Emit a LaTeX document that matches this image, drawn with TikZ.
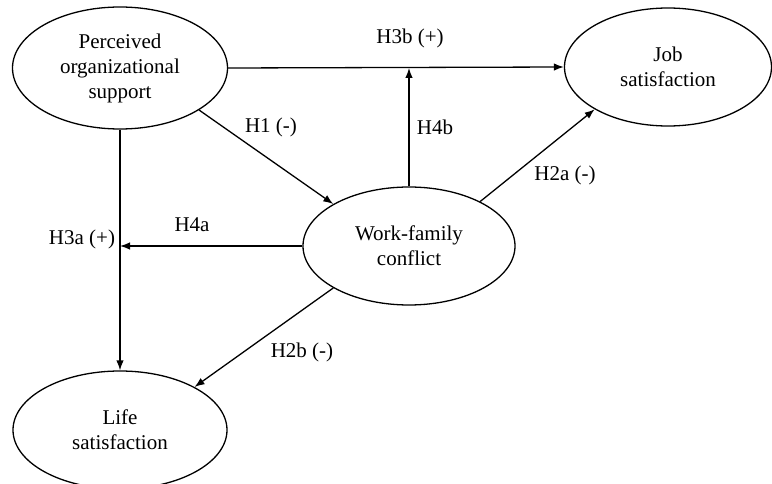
\documentclass[tikz,border=0pt]{standalone}
\usepackage{fontspec}
\setmainfont{Liberation Serif}
\usetikzlibrary{shapes.geometric,arrows.meta}
\begin{document}
\begin{tikzpicture}[x=1pt,y=-1pt,
  construct/.style={ellipse,draw,line width=1.3pt,inner sep=0pt,align=center,
    font=\fontsize{21}{25}\selectfont},
  lbl/.style={font=\fontsize{21}{25}\selectfont,inner sep=0pt},
  conn/.style={line width=1.3pt,-{Latex[length=10pt,width=7.5pt]}}]
\useasboundingbox (0,0) rectangle (772,484);
\node[construct,minimum width=215pt,minimum height=122pt] (pos) at (120,68) {Perceived\\organizational\\support};
\node[construct,minimum width=207pt,minimum height=118pt] (job) at (668,67) {Job\\satisfaction};
\node[construct,minimum width=212pt,minimum height=118pt] (wfc) at (409,246) {Work-family\\conflict};
\node[construct,minimum width=214pt,minimum height=118pt] (life) at (120,430) {Life\\satisfaction};
\coordinate (h4aend) at (pos.south |- wfc.west);
\coordinate (h4bend) at (wfc.north |- pos.east);
\draw[conn] (pos.east) -- (job.west);
\draw[conn] (pos.-28) -- (wfc.151);
\draw[conn] (pos.south) -- (life.north);
\draw[conn] (wfc.west) -- (h4aend);
\draw[conn] (wfc.north) -- (h4bend);
\draw[conn] (wfc.32) -- (job.210);
\draw[conn] (wfc.209) -- (life.30);
\node[lbl] (l3b) at (410,38) {H3b (+)};
\node[lbl] (l1) at (271,127) {H1 (-)};
\node[lbl] (l3a) at (82,239) {H3a (+)};
\node[lbl] (l4a) at (192,225) {H4a};
\node[lbl] (l4b) at (435,127) {H4b};
\node[lbl] (l2a) at (565,175) {H2a (-)};
\node[lbl] (l2b) at (302,352) {H2b (-)};
\end{tikzpicture}
\end{document}
